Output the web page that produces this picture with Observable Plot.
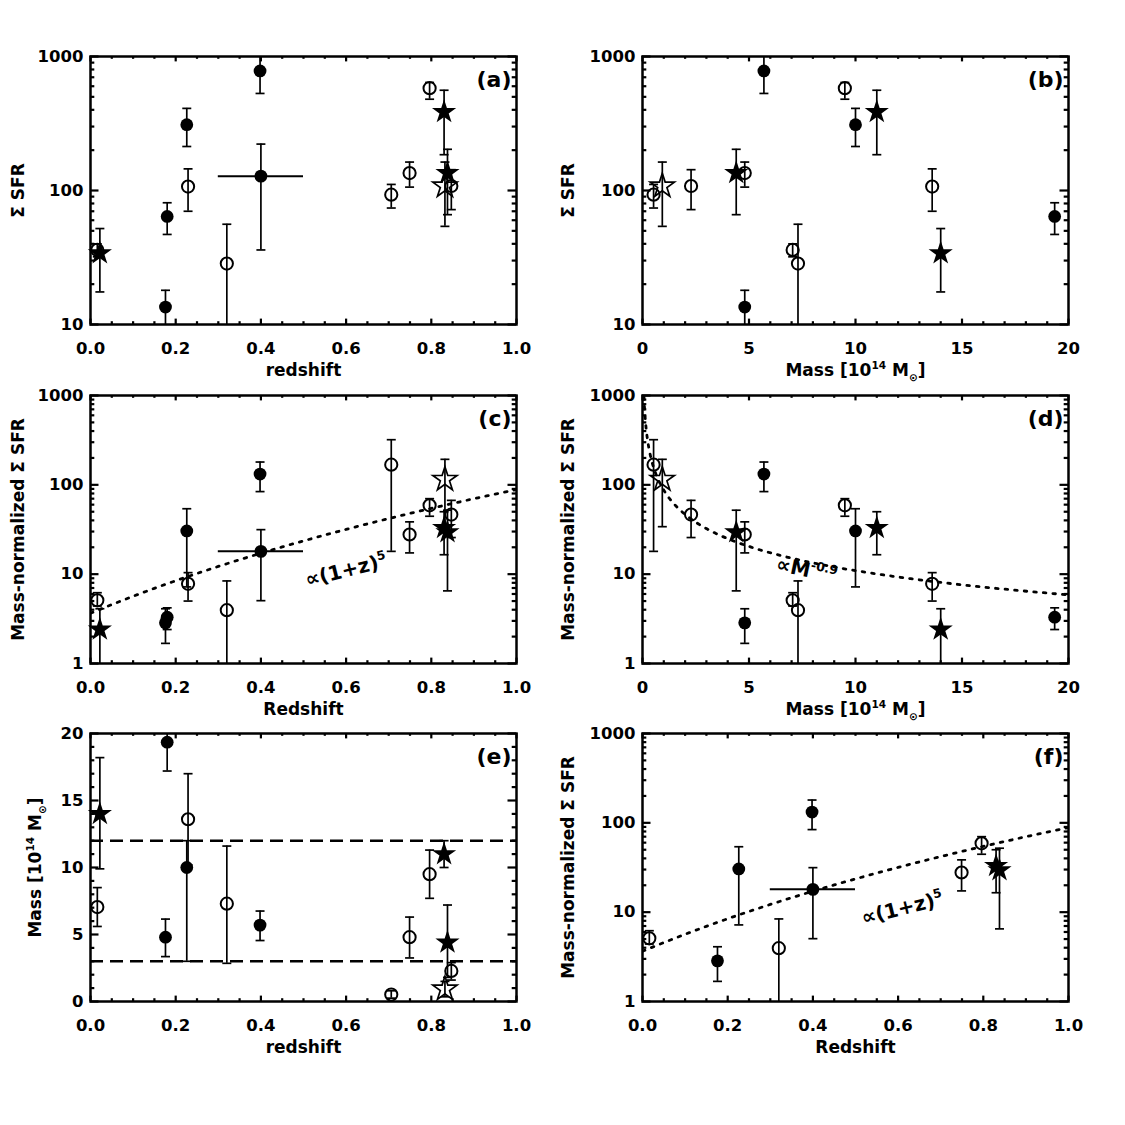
<!DOCTYPE html>
<html><head><meta charset="utf-8">
<script src="https://cdn.jsdelivr.net/npm/d3@7"></script>
<script src="https://cdn.jsdelivr.net/npm/@observablehq/plot@0.6"></script>
<style>
body{margin:0;background:#fff;}
#fig{position:relative;width:1125px;height:1125px;background:#fff;overflow:hidden;}
#fig svg{position:absolute;overflow:visible;}
</style></head><body><div id="fig"></div>
<script>
// ---- data (one entry per cluster) ----
const clusterSymbol = ["fstar","ocirc","fcirc","fcirc","ocirc","fcirc","ocirc","fcirc","fcirc","ocirc","ocirc","ocirc","fstar","fstar","ocirc","ostar"];
const redshift   = [0.022,0.016,0.180,0.176,0.229,0.226,0.320,0.398,0.400,0.706,0.749,0.796,0.830,0.838,0.847,0.832];
const redshiftLo = [null,null,null,null,null,null,null,null,0.30,null,null,null,null,null,null,null];
const redshiftHi = [null,null,null,null,null,null,null,null,0.50,null,null,null,null,null,null,null];
const mass       = [14.0,7.05,19.35,4.8,13.6,10.0,7.3,5.7,null,0.52,4.8,9.5,11.0,4.4,2.28,0.93];
const massLo     = [9.9,5.6,17.2,3.35,10.2,3.0,2.85,4.55,null,0.25,3.25,7.7,10.0,1.8,1.6,0.35];
const massHi     = [18.2,8.5,21,6.15,17.0,12.0,11.6,6.75,null,0.8,6.3,11.3,12.0,7.2,2.9,1.5];
const sfr        = [34,36,64,13.5,107,310,28.5,780,128,93,135,580,385,135,108,108];
const sfrLo      = [17.5,32,47,9,70,213,8,530,36,74,106,480,185,66,72,54];
const sfrHi      = [52,40,81,18,145,410,56,1100,222,111,163,640,560,203,143,163];
const sfrNorm    = [2.4,5.1,3.3,2.85,7.8,30.5,3.95,132,18,168,27.8,59,33,29.5,46.5,115];
const sfrNormLo  = [0.8,4.4,2.4,1.68,5.0,7.2,0.8,84,5.05,18,17.3,44.5,16.5,6.5,25.7,34];
const sfrNormHi  = [4.1,6.2,4.2,4.1,10.4,54,8.4,180,31.5,320,38.5,70,50,52,67,193];
const massCut    = [3, 12];             // dashed lines in (e); panel (f) keeps clusters in this range
const fitZAmp = 3.65, fitZExp = 4.6;    // dotted curve in (c),(f)
const fitMAmp = 87, fitMExp = -0.9;     // dotted curve in (d)

const zTicks = [0,0.2,0.4,0.6,0.8,1.0];
const massTicks = [0,5,10,15,20];
const logTicks3 = [1,10,100,1000];
const logTicks2 = [10,100,1000];

// ---- layout ----
const W = 426, H = 268;
const colX = [90, 642];
const rowY = [56, 395, 733];
const MG = {top: 14, right: 30, bottom: 60, left: 92};
const FONT = "DejaVu Sans";

const clusters = d3.range(redshift.length).map(i => ({
  sym: clusterSymbol[i], z: redshift[i], zLo: redshiftLo[i], zHi: redshiftHi[i],
  m: mass[i], mLo: massLo[i], mHi: massHi[i],
  s: sfr[i], sLo: sfrLo[i], sHi: sfrHi[i],
  n: sfrNorm[i], nLo: sfrNormLo[i], nHi: sfrNormHi[i]
}));

const capSym = {draw(ctx){ ctx.moveTo(-4.5,0); ctx.lineTo(4.5,0); }};
const EB = 1.7;

function scatter(data, xk, yk, lok, hik, withXErr) {
  const d = data.filter(c => c[xk] != null && c[yk] != null);
  const e = d.filter(c => c[lok] != null);
  const marks = [
    Plot.ruleX(e, {x: xk, y1: lok, y2: hik, stroke: "black", strokeWidth: EB, clip: true}),
    Plot.dot(e, {x: xk, y: lok, symbol: capSym, r: 3, stroke: "black", fill: "none", strokeWidth: EB, clip: true}),
    Plot.dot(e, {x: xk, y: hik, symbol: capSym, r: 3, stroke: "black", fill: "none", strokeWidth: EB, clip: true})
  ];
  if (withXErr) marks.push(Plot.ruleY(d.filter(c => c.zLo != null), {y: yk, x1: "zLo", x2: "zHi", stroke: "black", strokeWidth: 2, clip: true}));
  marks.push(
    Plot.dot(d.filter(c => c.sym === "fcirc"), {x: xk, y: yk, r: 6.4, fill: "black", symbol: "circle"}),
    Plot.dot(d.filter(c => c.sym === "ocirc"), {x: xk, y: yk, r: 6.1, fill: "none", stroke: "black", strokeWidth: 2, symbol: "circle"}),
    Plot.dot(d.filter(c => c.sym === "fstar"), {x: xk, y: yk, r: 7.6, fill: "black", symbol: "star"}),
    Plot.dot(d.filter(c => c.sym === "ostar"), {x: xk, y: yk, r: 7.6, fill: "none", stroke: "black", strokeWidth: 1.7, symbol: "star"})
  );
  return marks;
}

function minorLog(lo, hi) {
  const out = [];
  for (let p = Math.log10(lo); p < Math.log10(hi); p++) for (let k = 2; k <= 9; k++) out.push(k * 10 ** p);
  return out;
}
function minorLin(lo, hi, step, major) {
  const out = [];
  for (let v = lo; v <= hi + 1e-9; v += step) { const r = Math.round(v * 1000) / 1000; if (!major.some(m => Math.abs(m - r) < 1e-6)) out.push(r); }
  return out;
}

function frameMarks(o) {
  const tx = 5.4, txm = 2.8, ty = 8.5, tym = 4.3, sw = 2.2;
  const id = d => d;
  return [
    Plot.tickX(o.xMajor, {x: id, insetTop: H - tx, strokeWidth: sw}),
    Plot.tickX(o.xMajor, {x: id, insetBottom: H - tx, strokeWidth: sw}),
    Plot.tickX(o.xMinor, {x: id, insetTop: H - txm, strokeWidth: sw}),
    Plot.tickX(o.xMinor, {x: id, insetBottom: H - txm, strokeWidth: sw}),
    Plot.tickY(o.yMajor, {y: id, insetRight: W - ty, strokeWidth: sw}),
    Plot.tickY(o.yMajor, {y: id, insetLeft: W - ty, strokeWidth: sw}),
    Plot.tickY(o.yMinor, {y: id, insetRight: W - tym, strokeWidth: sw}),
    Plot.tickY(o.yMinor, {y: id, insetLeft: W - tym, strokeWidth: sw}),
    Plot.text(o.xMajor, {x: id, text: o.xFmt, frameAnchor: "bottom", textAnchor: "middle", lineAnchor: "middle", dy: 24, fontSize: 16.5, fontWeight: "bold"}),
    Plot.text(o.yMajor, {y: id, text: o.yFmt, frameAnchor: "left", textAnchor: "end", lineAnchor: "middle", dx: -7, fontSize: 16.5, fontWeight: "bold"}),
    Plot.text([o.xTitle], {frameAnchor: "bottom", textAnchor: "middle", lineAnchor: "middle", dy: 46, fontSize: 17, fontWeight: "bold"}),
    Plot.text([o.yTitle], {frameAnchor: "left", textAnchor: "middle", lineAnchor: "middle", rotate: -90, dx: -o.yTitleDx, fontSize: 17, fontWeight: "bold"}),
    Plot.text([o.letter], {frameAnchor: "top-right", textAnchor: "end", lineAnchor: "middle", dx: -5, dy: 23, fontSize: 22, fontWeight: "bold"}),
    Plot.frame({stroke: "black", strokeWidth: 2.5})
  ];
}

function richify(svg) {
  for (const t of svg.querySelectorAll("text")) {
    const s = t.textContent;
    if (!/[\^_]\{/.test(s)) continue;
    const fsEl = t.closest("[font-size]");
    const base = fsEl ? parseFloat(fsEl.getAttribute("font-size")) : 16;
    t.textContent = "";
    const re = /([\^_])\{([^}]*)\}|([^\^_]+)/g;
    let m, shift = 0;
    while ((m = re.exec(s))) {
      const ts = document.createElementNS("http://www.w3.org/2000/svg", "tspan");
      let target = 0;
      if (m[1]) { target = m[1] === "^" ? -0.42 * base : 0.28 * base; ts.setAttribute("font-size", 0.62 * base); ts.textContent = m[2]; }
      else ts.textContent = m[3];
      if (target - shift !== 0) ts.setAttribute("dy", target - shift);
      shift = target;
      t.appendChild(ts);
    }
  }
}

const fig = document.getElementById("fig");
function addPanel(col, row, o) {
  const svg = Plot.plot({
    width: MG.left + W + MG.right, height: MG.top + H + MG.bottom,
    marginLeft: MG.left, marginRight: MG.right, marginTop: MG.top, marginBottom: MG.bottom,
    x: {domain: o.xDomain, type: o.xType || "linear", axis: null},
    y: {domain: o.yDomain, type: o.yType || "linear", axis: null},
    style: {fontFamily: FONT, background: "transparent", overflow: "visible", color: "black"},
    marks: [...o.marks, ...frameMarks(o)]
  });
  svg.style.left = (colX[col] - MG.left) + "px";
  svg.style.top = (rowY[row] - MG.top) + "px";
  richify(svg);
  fig.appendChild(svg);
}

const zFmt = d => d.toFixed(1);
const numFmt = d => String(d);
const zMinor = minorLin(0, 1, 0.05, zTicks);
const mMinor = minorLin(0, 20, 1, massTicks);
const massTitle = "Mass [10^{14} M_{⊙}]";
const fitZ = d3.range(0, 1.0001, 0.01).map(z => ({z, y: fitZAmp * Math.pow(1 + z, fitZExp)}));
const fitM = d3.range(-1.4, Math.log10(20) + 0.0001, 0.01).map(l => ({m: 10 ** l, y: fitMAmp * Math.pow(10 ** l, fitMExp)}));
const dotted = {stroke: "black", strokeWidth: 2.8, strokeDasharray: "2.6,7", clip: true};
const lbl = {fontSize: 20, fontWeight: "bold", textAnchor: "middle", lineAnchor: "middle"};

// (a)
addPanel(0, 0, {xDomain: [0,1], yDomain: [10,1000], yType: "log",
  xMajor: zTicks, xMinor: zMinor, yMajor: logTicks2, yMinor: minorLog(10,1000), xFmt: zFmt, yFmt: numFmt,
  xTitle: "redshift", yTitle: "Σ SFR", yTitleDx: 72, letter: "(a)",
  marks: scatter(clusters, "z", "s", "sLo", "sHi", true)});
// (b)
addPanel(1, 0, {xDomain: [0,20], yDomain: [10,1000], yType: "log",
  xMajor: massTicks, xMinor: mMinor, yMajor: logTicks2, yMinor: minorLog(10,1000), xFmt: numFmt, yFmt: numFmt,
  xTitle: massTitle, yTitle: "Σ SFR", yTitleDx: 74, letter: "(b)",
  marks: scatter(clusters, "m", "s", "sLo", "sHi", false)});
// (c)
addPanel(0, 1, {xDomain: [0,1], yDomain: [1,1000], yType: "log",
  xMajor: zTicks, xMinor: zMinor, yMajor: logTicks3, yMinor: minorLog(1,1000), xFmt: zFmt, yFmt: numFmt,
  xTitle: "Redshift", yTitle: "Mass-normalized Σ SFR", yTitleDx: 72, letter: "(c)",
  marks: [Plot.line(fitZ, {x: "z", y: "y", ...dotted}),
          ...scatter(clusters, "z", "n", "nLo", "nHi", true),
          Plot.text([{x: 0.6, y: 11}], {x: "x", y: "y", text: () => "∝(1+z)^{5}", rotate: -14, ...lbl})]});
// (d)
addPanel(1, 1, {xDomain: [0,20], yDomain: [1,1000], yType: "log",
  xMajor: massTicks, xMinor: mMinor, yMajor: logTicks3, yMinor: minorLog(1,1000), xFmt: numFmt, yFmt: numFmt,
  xTitle: massTitle, yTitle: "Mass-normalized Σ SFR", yTitleDx: 74, letter: "(d)",
  marks: [Plot.line(fitM, {x: "m", y: "y", ...dotted}),
          ...scatter(clusters, "m", "n", "nLo", "nHi", false),
          Plot.text([{x: 7.7, y: 11}], {x: "x", y: "y", text: () => "∝M^{-0.9}", rotate: 12, ...lbl})]});
// (e)
addPanel(0, 2, {xDomain: [0,1], yDomain: [0,20],
  xMajor: zTicks, xMinor: zMinor, yMajor: massTicks, yMinor: mMinor, xFmt: zFmt, yFmt: numFmt,
  xTitle: "redshift", yTitle: massTitle, yTitleDx: 55, letter: "(e)",
  marks: [Plot.ruleY(massCut, {y: d => d, stroke: "black", strokeWidth: 2.4, strokeDasharray: "13,7"}),
          ...scatter(clusters, "z", "m", "mLo", "mHi", false)]});
// (f)
const subsetF = clusters.filter(c => c.m == null || (c.m >= massCut[0] && c.m <= massCut[1]));
addPanel(1, 2, {xDomain: [0,1], yDomain: [1,1000], yType: "log",
  xMajor: zTicks, xMinor: zMinor, yMajor: logTicks3, yMinor: minorLog(1,1000), xFmt: zFmt, yFmt: numFmt,
  xTitle: "Redshift", yTitle: "Mass-normalized Σ SFR", yTitleDx: 74, letter: "(f)",
  marks: [Plot.line(fitZ, {x: "z", y: "y", ...dotted}),
          ...scatter(subsetF, "z", "n", "nLo", "nHi", true),
          Plot.text([{x: 0.61, y: 11}], {x: "x", y: "y", text: () => "∝(1+z)^{5}", rotate: -14, ...lbl})]});
</script>
</body></html>
